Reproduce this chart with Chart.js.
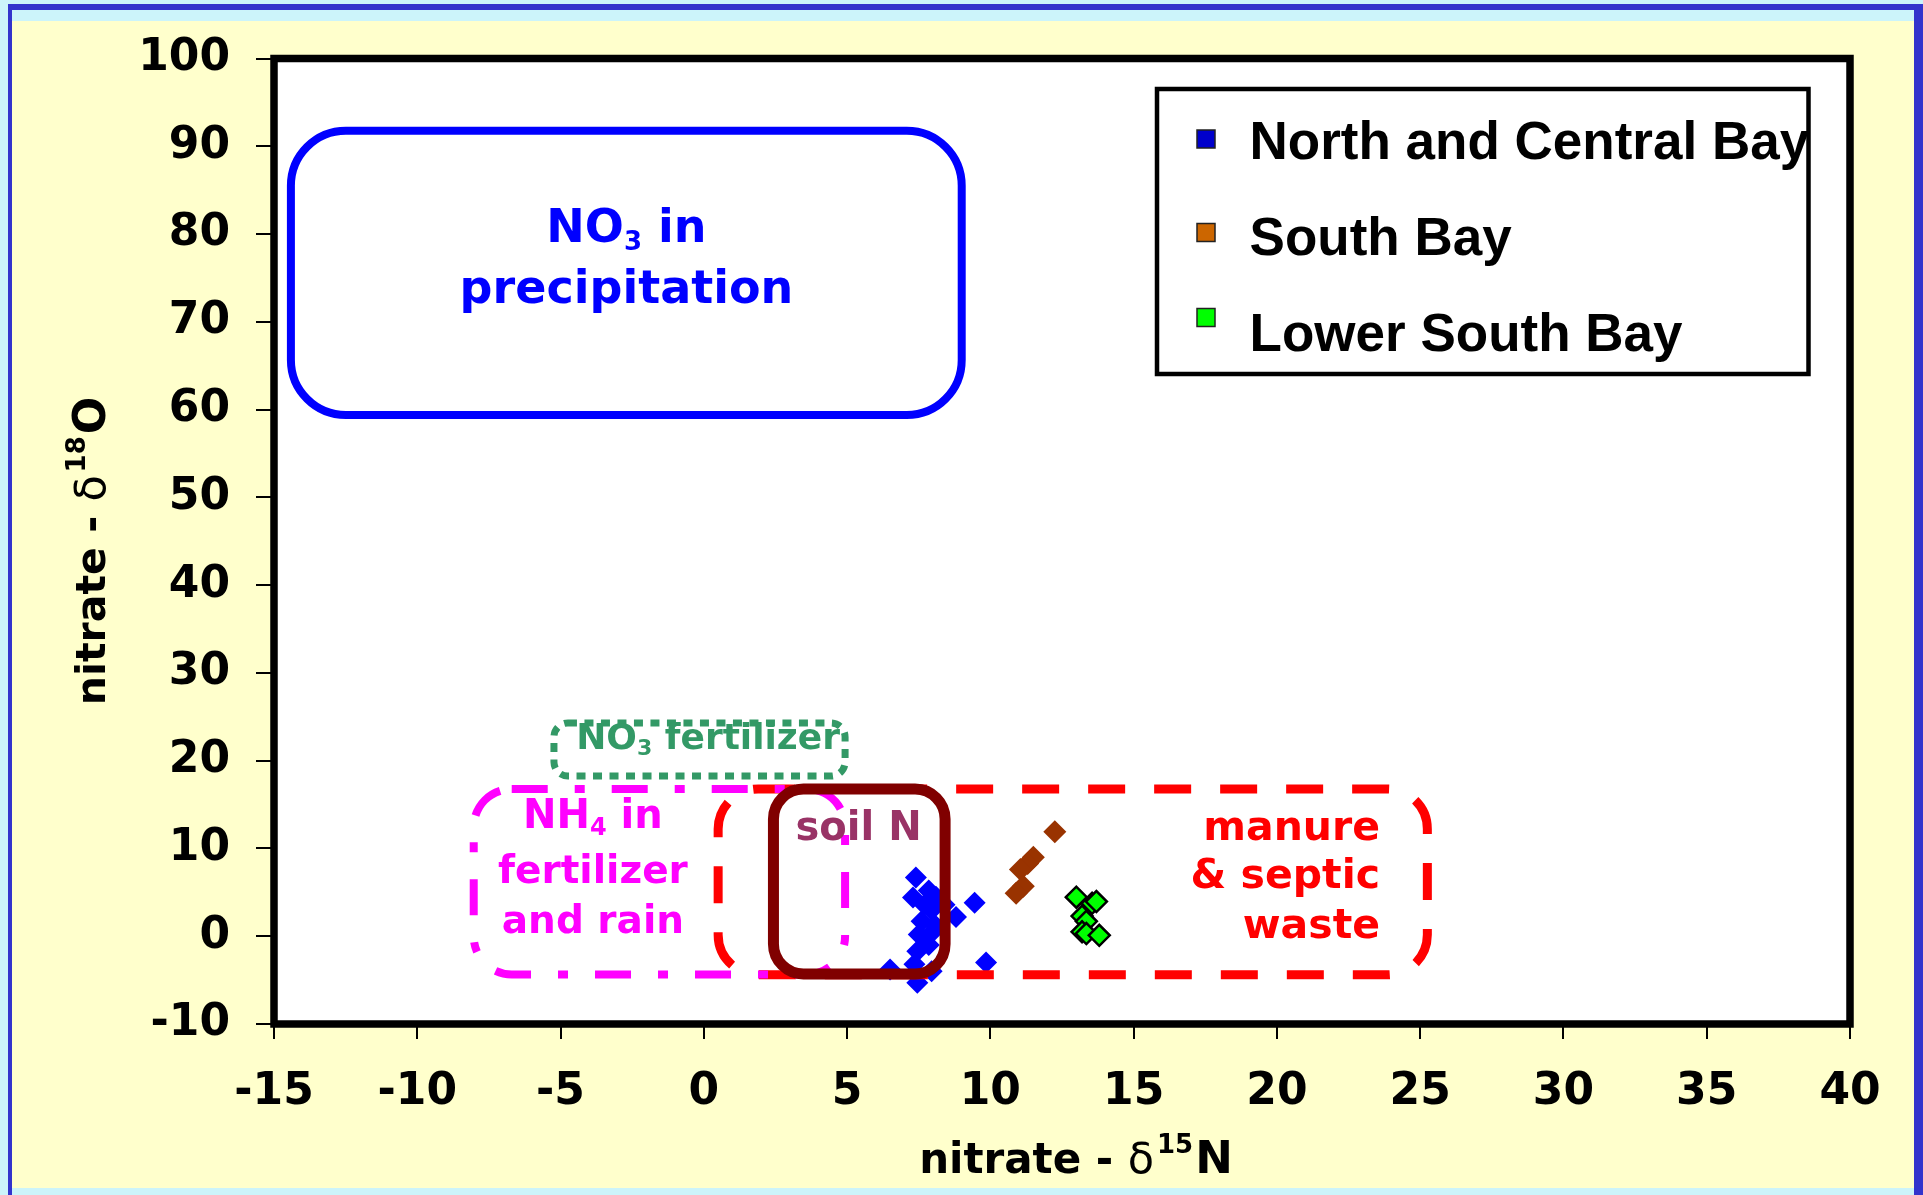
<!DOCTYPE html>
<html>
<head>
<meta charset="utf-8">
<script src="https://cdn.jsdelivr.net/npm/chart.js@4.4.1/dist/chart.umd.min.js"></script>
<style>
  html, body { margin: 0; padding: 0; background: #CCF4FA; overflow: hidden; }
  canvas { display: block; }
</style>
</head>
<body>
<canvas id="chart" width="1923" height="1195"></canvas>
<script>
// Tick values of both axes
const xTickValues = [-15, -10, -5, 0, 5, 10, 15, 20, 25, 30, 35, 40];
const yTickValues = [-10, 0, 10, 20, 30, 40, 50, 60, 70, 80, 90, 100];

// Sampling areas
const seriesNames = ['North and Central Bay', 'South Bay', 'Lower South Bay'];

// nitrate d15N (x) and d18O (y), per mil
const northCentralN15 = [7.40, 7.30, 7.85, 8.10, 7.70, 8.40, 9.45, 7.95, 8.80, 7.60, 8.05, 7.50, 7.95, 7.45, 7.85, 7.35, 7.95, 7.45, 6.50, 9.85];
const northCentralO18 = [6.7, 4.4, 5.2, 4.5, 3.6, 3.6, 3.8, 3.0, 2.2, 1.7, 1.3, 0.2, 0.4, -1.7, -1.0, -3.2, -4.0, -5.3, -3.8, -3.0];
const southN15 = [12.25, 11.50, 11.30, 11.05, 11.15, 10.90];
const southO18 = [11.9, 9.0, 8.3, 7.6, 5.7, 4.9];
const lowerSouthN15 = [13.00, 13.55, 13.70, 13.20, 13.35, 13.20, 13.35, 13.80];
const lowerSouthO18 = [4.45, 3.75, 3.95, 2.30, 1.70, 0.50, 0.30, 0.10];

const toPoints = (xs, ys) => xs.map((x, i) => ({ x: x, y: ys[i] }));

const bold = s => `bold ${s}px "DejaVu Sans"`;

// Typical source ranges, in axis units
const sourceRegions = [
  { x0: 0.50,   x1: 25.25, y0: -4.4,  y1: 16.77, color: '#FF0000', width: 9,  dash: [37, 29],         radius: 40 },
  { x0: -8.03,  x1: 4.93,  y0: -4.35, y1: 16.77, color: '#FF00FF', width: 8,  dash: [36, 27, 10, 27], radius: 38 },
  { x0: -5.23,  x1: 4.93,  y0: 18.25, y1: 24.3,  color: '#339966', width: 7,  dash: [9, 7.5],         radius: 14 },
  { x0: 2.43,   x1: 8.42,  y0: -4.3,  y1: 16.77, color: '#800000', width: 11, dash: [],              radius: 30 },
  { x0: -14.41, x1: 9.00,  y0: 59.38, y1: 91.77, color: '#0000FF', width: 8,  dash: [],              radius: 55 }
];

const regionLabels = [
  { color: '#0000FF', align: 'center', x: -2.7, lines: [
      { y: 79.04, parts: [['NO', bold(46)], ['3', bold(26), 8], [' in', bold(46)]] },
      { y: 72.18, parts: [['precipitation', bold(46)]] } ] },
  { color: '#339966', align: 'center', x: 0.15, lines: [
      { y: 21.3, parts: [['NO', bold(36)], ['3', bold(22), 6], [' fertilizer', bold(36)]] } ] },
  { color: '#FF00FF', align: 'center', x: -3.87, lines: [
      { y: 12.33, parts: [['NH', bold(40)], ['4', bold(24), 7], [' in', bold(40)]] },
      { y: 6.06, parts: [['fertilizer', bold(39)]] },
      { y: 0.36, parts: [['and rain', bold(39)]] } ] },
  { color: '#993366', align: 'center', x: 5.4, lines: [
      { y: 10.96, parts: [['soil N', bold(40)]] } ] },
  { color: '#FF0000', align: 'right', x: 23.6, lines: [
      { y: 10.96, parts: [['manure', bold(41)]] },
      { y: 5.46, parts: [['& septic', bold(41)]] },
      { y: -0.24, parts: [['waste', bold(41)]] } ] }
];

function drawRich(ctx, parts, x, y, align) {
  let w = 0;
  for (const p of parts) { ctx.font = p[1]; w += ctx.measureText(p[0]).width; }
  let cx = align === 'center' ? x - w / 2 : (align === 'right' ? x - w : x);
  ctx.textAlign = 'left';
  ctx.textBaseline = 'alphabetic';
  for (const p of parts) {
    ctx.font = p[1];
    ctx.fillText(p[0], cx, y + (p[2] || 0));
    cx += ctx.measureText(p[0]).width;
  }
}

// Page background, framed panel and white plot area
const backdrop = {
  id: 'backdrop',
  beforeDraw(chart) {
    const { ctx, chartArea: a, width, height } = chart;
    ctx.save();
    ctx.fillStyle = '#CCF4FA';
    ctx.fillRect(0, 0, width, height);
    ctx.fillStyle = '#FFFFCC';
    ctx.fillRect(12, 21, 1902, 1167);
    ctx.fillStyle = '#3333CC';
    ctx.fillRect(8, 4, 1915, 6);
    ctx.fillRect(8, 4, 4, height);
    ctx.fillRect(1914, 4, 9, height);
    ctx.fillStyle = '#FFFFFF';
    ctx.fillRect(a.left, a.top, a.right - a.left, a.bottom - a.top);
    ctx.restore();
  }
};

// Source boxes, their labels and the plot frame
const sources = {
  id: 'sources',
  afterDatasetsDraw(chart) {
    const { ctx, chartArea: a } = chart;
    const xs = chart.scales.x, ys = chart.scales.y;
    ctx.save();
    for (const r of sourceRegions) {
      const l = xs.getPixelForValue(r.x0), rt = xs.getPixelForValue(r.x1);
      const t = ys.getPixelForValue(r.y1), b = ys.getPixelForValue(r.y0);
      ctx.beginPath();
      ctx.roundRect(l, t, rt - l, b - t, r.radius);
      ctx.strokeStyle = r.color;
      ctx.lineWidth = r.width;
      ctx.lineCap = 'butt';
      ctx.setLineDash(r.dash);
      ctx.stroke();
    }
    ctx.setLineDash([]);
    for (const lab of regionLabels) {
      ctx.fillStyle = lab.color;
      const px = xs.getPixelForValue(lab.x);
      for (const line of lab.lines) {
        drawRich(ctx, line.parts, px, ys.getPixelForValue(line.y), lab.align);
      }
    }
    ctx.strokeStyle = '#000000';
    ctx.lineWidth = 7.5;
    ctx.strokeRect(a.left, a.top, a.right - a.left, a.bottom - a.top);
    ctx.restore();
  }
};

// Axis titles and the boxed legend
const titlesAndLegend = {
  id: 'titlesAndLegend',
  afterDraw(chart) {
    const { ctx } = chart;
    ctx.save();
    ctx.fillStyle = '#000000';
    const delta = '43px "DejaVu Sans"';
    const xTitle = [['nitrate - ', bold(42)], ['δ', delta], [' ', bold(8)], ['15', bold(26), -20], [' ', bold(6)], ['N', bold(45)]];
    drawRich(ctx, xTitle, 1076, 1173, 'center');
    const yTitle = [['nitrate - ', bold(41)], ['δ', delta], [' ', bold(8)], ['18', bold(26), -20], [' ', bold(6)], ['O', bold(44)]];
    ctx.save();
    ctx.translate(105, 551);
    ctx.rotate(-Math.PI / 2);
    drawRich(ctx, yTitle, 0, 0, 'center');
    ctx.restore();

    // legend
    ctx.strokeStyle = '#000000';
    ctx.lineWidth = 4.5;
    ctx.strokeRect(1157, 89, 651.5, 285);
    const rows = [139, 232.5, 317.5];
    const baselines = [159.3, 255, 350.7];
    chart.data.datasets.forEach((ds, i) => {
      ctx.fillStyle = ds.legendColor;
      ctx.fillRect(1197, rows[i] - 9, 18, 18);
      ctx.lineWidth = 1.5;
      ctx.strokeStyle = '#222222';
      ctx.strokeRect(1197, rows[i] - 9, 18, 18);
      ctx.fillStyle = '#000000';
      ctx.font = 'bold 53px "Liberation Sans"';
      ctx.textAlign = 'left';
      ctx.textBaseline = 'alphabetic';
      ctx.fillText(ds.label, 1249.6, baselines[i]);
    });
    ctx.restore();
  }
};

const tickFont = { family: 'DejaVu Sans', weight: 'bold', size: 44 };

new Chart(document.getElementById('chart'), {
  type: 'scatter',
  data: {
    datasets: [
      { label: seriesNames[0], data: toPoints(northCentralN15, northCentralO18),
        pointStyle: 'rectRot', radius: 11, hoverRadius: 11, backgroundColor: '#0000FF', borderWidth: 0, legendColor: '#0000CC' },
      { label: seriesNames[1], data: toPoints(southN15, southO18),
        pointStyle: 'rectRot', radius: 11.5, hoverRadius: 11.5, backgroundColor: '#993300', borderWidth: 0, legendColor: '#CC6600' },
      { label: seriesNames[2], data: toPoints(lowerSouthN15, lowerSouthO18),
        pointStyle: 'rectRot', radius: 10.5, hoverRadius: 10.5, backgroundColor: '#00FF00', borderColor: '#000000', borderWidth: 2.5, legendColor: '#00FF00' }
    ]
  },
  options: {
    responsive: false,
    animation: false,
    devicePixelRatio: 1,
    layout: { padding: { top: 58.5, right: 73, bottom: 0, left: 0 } },
    plugins: { legend: { display: false }, tooltip: { enabled: false } },
    scales: {
      x: {
        type: 'linear', position: 'bottom', min: -15, max: 40,
        afterBuildTicks: s => { s.ticks = xTickValues.map(v => ({ value: v })); },
        afterFit: s => { s.height = 171; },
        grid: { drawOnChartArea: false, drawTicks: true, tickLength: 15, color: '#000000', lineWidth: 2 },
        border: { display: false },
        ticks: { font: tickFont, color: '#000000', padding: 27, maxRotation: 0, autoSkip: false }
      },
      y: {
        type: 'linear', position: 'left', min: -10, max: 100,
        afterBuildTicks: s => { s.ticks = yTickValues.map(v => ({ value: v })); },
        afterFit: s => { s.width = 274; },
        grid: { drawOnChartArea: false, drawTicks: true, tickLength: 18, color: '#000000', lineWidth: 2 },
        border: { display: false },
        ticks: { font: tickFont, color: '#000000', padding: 26, autoSkip: false }
      }
    }
  },
  plugins: [backdrop, sources, titlesAndLegend]
});
</script>
</body>
</html>
